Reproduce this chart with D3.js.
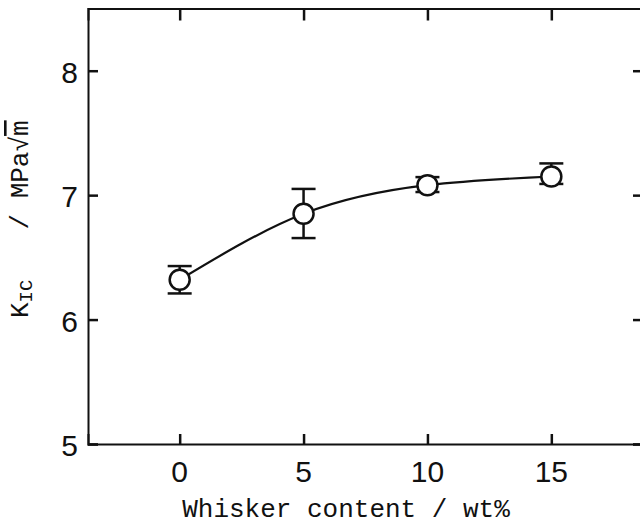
<!DOCTYPE html>
<html>
<head>
<meta charset="utf-8">
<script src="https://d3js.org/d3.v7.min.js"></script>
<style>
  body { margin: 0; background: #fff; }
  svg { display: block; }
  .tick-label { font-family: "Liberation Sans", Arial, sans-serif; font-size: 30px; fill: #111; }
  .title { font-family: "Liberation Mono", "Courier New", monospace; fill: #111; }
</style>
</head>
<body>
<svg width="640" height="527"></svg>
<script>
// whisker content (wt%) vs fracture toughness K_IC (MPa m^1/2)
var content = [0, 5, 10, 15];
var kicMean = [6.32, 6.85, 7.08, 7.15];
var kicHigh = [6.43, 7.05, 7.145, 7.255];
var kicLow = [6.21, 6.655, 7.025, 7.09];

var xTicks = [0, 5, 10, 15];
var yTicks = [5, 6, 7, 8];

var svg = d3.select("svg");
var ink = "#111";

var x = d3.scaleLinear().domain([-3.7, 18.7]).range([88, 643]);
var y = d3.scaleLinear().domain([5, 8.5]).range([444, 8.5]);

// frame, drawn with axes so ticks point inward
svg.append("g").attr("transform", "translate(0," + y(5) + ")")
  .call(d3.axisTop(x).tickValues(xTicks).tickSize(10).tickFormat(""))
  .call(styleAxis);
svg.append("g").attr("transform", "translate(0," + y(8.5) + ")")
  .call(d3.axisBottom(x).tickValues(xTicks).tickSize(12).tickFormat(""))
  .call(styleAxis);
svg.append("g").attr("transform", "translate(" + x(-3.7) + ",0)")
  .call(d3.axisRight(y).tickValues(yTicks).tickSize(10).tickFormat(""))
  .call(styleAxis);
svg.append("g").attr("transform", "translate(" + x(18.7) + ",0)")
  .call(d3.axisLeft(y).tickValues(yTicks).tickSize(10).tickFormat(""))
  .call(styleAxis);

function styleAxis(g) {
  g.select(".domain").attr("stroke", ink).attr("stroke-width", 2);
  g.selectAll(".tick line").attr("stroke", ink).attr("stroke-width", 2.5);
}

// tick labels
svg.selectAll(".xlab").data(xTicks).enter().append("text")
  .attr("class", "tick-label")
  .attr("x", function(d) { return x(d); })
  .attr("y", y(5) + 38)
  .attr("text-anchor", "middle")
  .text(function(d) { return d; });

svg.selectAll(".ylab").data(yTicks).enter().append("text")
  .attr("class", "tick-label")
  .attr("x", x(-3.7) - 10)
  .attr("y", function(d) { return y(d) + 12; })
  .attr("text-anchor", "end")
  .text(function(d) { return d; });

// axis titles
svg.append("text").attr("class", "title")
  .attr("x", 346).attr("y", 517)
  .attr("text-anchor", "middle")
  .attr("font-size", 26)
  .text("Whisker content / wt%");

var yt = svg.append("text").attr("class", "title")
  .attr("transform", "translate(28,318) rotate(-90)")
  .attr("font-size", 26);
yt.append("tspan").text("K");
yt.append("tspan").attr("font-size", 19).attr("dy", 4).text("IC");
yt.append("tspan").attr("dy", -4).attr("dx", 50).text("/ MPa\u221A");
yt.append("tspan").attr("text-decoration", "overline").text("m");

// fitted curve through the means
var line = d3.line()
  .x(function(d, i) { return x(content[i]); })
  .y(function(d) { return y(d); })
  .curve(d3.curveNatural);

svg.append("path")
  .attr("d", line(kicMean))
  .attr("fill", "none")
  .attr("stroke", ink)
  .attr("stroke-width", 2.2);

// error bars
var eb = svg.append("g").attr("stroke", ink).attr("stroke-width", 2.5);
content.forEach(function(c, i) {
  eb.append("line").attr("x1", x(c)).attr("x2", x(c)).attr("y1", y(kicLow[i])).attr("y2", y(kicHigh[i]));
  eb.append("line").attr("x1", x(c) - 12).attr("x2", x(c) + 12).attr("y1", y(kicLow[i])).attr("y2", y(kicLow[i]));
  eb.append("line").attr("x1", x(c) - 12).attr("x2", x(c) + 12).attr("y1", y(kicHigh[i])).attr("y2", y(kicHigh[i]));
});

// open circle markers
svg.selectAll(".pt").data(kicMean).enter().append("circle")
  .attr("cx", function(d, i) { return x(content[i]); })
  .attr("cy", function(d) { return y(d); })
  .attr("r", 10)
  .attr("fill", "#fff")
  .attr("stroke", ink)
  .attr("stroke-width", 2.5);
</script>
</body>
</html>
